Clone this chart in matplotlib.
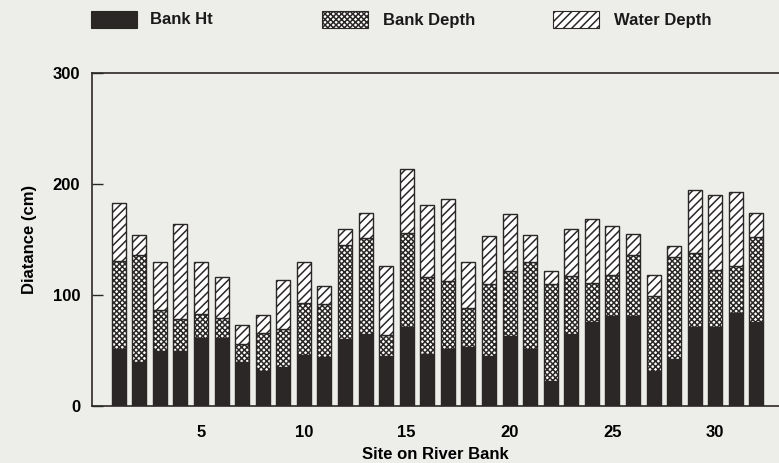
import matplotlib
matplotlib.use("Agg")
import matplotlib.pyplot as plt
from matplotlib.patches import Rectangle

# Measurements per site (cm)
sites = list(range(1, 33))
bank_ht = [51, 40, 50, 50, 61, 61, 40, 32, 35, 46, 44, 60, 65, 45, 71, 47,
           51, 53, 45, 63, 51, 23, 65, 76, 81, 81, 32, 42, 71, 71, 84, 76]
bank_top = [131, 136, 87, 78, 83, 79, 56, 66, 69, 93, 92, 145, 151, 64, 156, 116,
            113, 88, 110, 122, 130, 110, 117, 111, 118, 136, 99, 134, 138, 123, 126, 152]
total = [183, 154, 130, 164, 130, 116, 73, 82, 114, 130, 108, 160, 174, 126, 214, 181,
         187, 130, 153, 173, 154, 122, 160, 169, 162, 155, 118, 144, 195, 190, 193, 174]
bank_depth = [b - h for b, h in zip(bank_top, bank_ht)]
water_depth = [t - b for t, b in zip(total, bank_top)]

series_labels = ["Bank Ht", "Bank Depth", "Water Depth"]
xticks = [5, 10, 15, 20, 25, 30]
yticks = [0, 100, 200, 300]

bg = "#ededea"
ink = "#2b2727"
plt.rcParams["font.family"] = ["Liberation Sans", "DejaVu Sans"]
plt.rcParams["font.weight"] = "bold"
plt.rcParams["hatch.linewidth"] = 1.1
plt.rcParams["hatch.color"] = ink

checker = "xxxxxx"
stripes = "////"

fig = plt.figure(figsize=(7.79, 4.63), dpi=100, facecolor=bg)
ax = fig.add_axes([0.118, 0.123, 0.882, 0.719], facecolor=bg)

w = 0.68
ax.bar(sites, bank_ht, width=w, color=ink, edgecolor=ink, linewidth=1)
ax.bar(sites, bank_depth, bottom=bank_ht, width=w, color="white",
       edgecolor=ink, hatch=checker, linewidth=1)
ax.bar(sites, water_depth, bottom=bank_top, width=w, color="white",
       edgecolor=ink, hatch=stripes, linewidth=1)

ax.set_xlim(-0.3, 33.1)
ax.set_ylim(0, 300)
ax.set_xticks(xticks)
ax.set_yticks(yticks)
ax.tick_params(axis="x", length=0, pad=14, labelsize=12)
ax.tick_params(axis="y", length=8, width=1, direction="in", pad=8.5, labelsize=12,
               color=ink)
for s in ["left", "top", "bottom"]:
    ax.spines[s].set_color(ink)
    ax.spines[s].set_linewidth(1.2)
ax.spines["right"].set_visible(False)
ax.set_xlabel("Site on River Bank", fontsize=12, fontweight="bold", labelpad=5)
ax.set_ylabel("Diatance (cm)", fontsize=12, fontweight="bold", labelpad=11)

# Legend row across the top
W, H = 779, 463
styles = [dict(facecolor=ink, hatch=None), dict(facecolor="white", hatch=checker),
          dict(facecolor="white", hatch=stripes)]
patch_x = [91, 322, 553]
text_x = [150, 383, 614]
for px, tx, lab, st in zip(patch_x, text_x, series_labels, styles):
    r = Rectangle((px / W, 1 - 28 / H), 46 / W, 17 / H, transform=fig.transFigure,
                  facecolor=st["facecolor"], hatch=st["hatch"], edgecolor=ink,
                  linewidth=0.8)
    fig.add_artist(r)
    fig.text(tx / W, 1 - 20 / H, lab, fontsize=12, fontweight="bold",
             va="center", ha="left", color="#1a1a1a")

fig.savefig("out.png", dpi=100, facecolor=bg)
